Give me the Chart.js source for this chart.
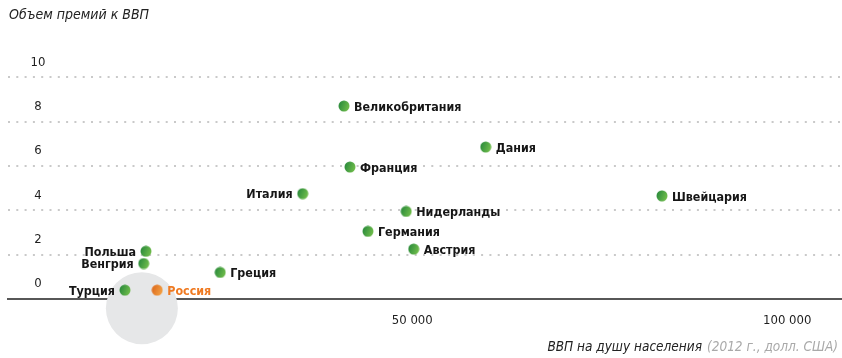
<!DOCTYPE html>
<html lang="ru">
<head>
<meta charset="utf-8">
<title>Объем премий к ВВП</title>
<script src="https://cdn.jsdelivr.net/npm/chart.js@4.4.1/dist/chart.umd.min.js"></script>
<style>
  html, body { margin: 0; padding: 0; background: #fff; }
  #wrap { position: relative; width: 842px; height: 358px; overflow: hidden; }
  #c { position: absolute; left: 0; top: 0; }
  .cap {
    position: absolute; white-space: nowrap; font-style: italic;
    font-family: 'Liberation Sans Narrow', 'DejaVu Sans Condensed', 'Roboto', sans-serif;
    color: #222; font-size: 14px;
  }
  #ytitle { left: 9px; top: 6px; }
  #xtitle { right: 4px; top: 338px; font-size: 13.5px; }
  #xtitle span { color: #a9a9a9; margin-left: 5px; }
</style>
</head>
<body>
<div id="wrap">
  <canvas id="c" width="842" height="358"></canvas>
  <div class="cap" id="ytitle">Объем премий к ВВП</div>
  <div class="cap" id="xtitle">ВВП на душу населения<span>(2012 г., долл. США)</span></div>
</div>
<script>
// Insurance premiums as % of GDP against GDP per capita (USD, 2012)
const countries = ['Великобритания', 'Дания', 'Франция', 'Италия', 'Нидерланды', 'Швейцария',
                   'Германия', 'Австрия', 'Польша', 'Венгрия', 'Греция', 'Турция', 'Россия'];
const gdpPerCapita = [40900, 59800, 41700, 35400, 49200, 83300,
                      44100, 50200, 14500, 14200, 24400, 11700, 16000];
const premiumsToGdp = [8.7, 6.85, 5.95, 4.75, 3.95, 4.65,
                       3.05, 2.25, 2.15, 1.6, 1.2, 0.4, 0.4];
const xTickValues = [50000, 100000];
const yTickValues = [0, 2, 4, 6, 8, 10];

const highlighted = 'Россия';
const labelsOnLeft = ['Италия', 'Польша', 'Венгрия', 'Турция'];

const FONT = "'Liberation Sans Narrow', 'DejaVu Sans Condensed', 'Roboto', sans-serif";
const DOT_R = 5.5;

const points = countries.map((name, i) => ({ x: gdpPerCapita[i], y: premiumsToGdp[i], name }));

// Small shaded disc used as the point glyph
function makeDot(dark, light) {
  const size = Math.ceil(DOT_R * 2) + 1;
  const cv = document.createElement('canvas');
  cv.width = size; cv.height = size;
  const g = cv.getContext('2d');
  const c = size / 2;
  const grad = g.createLinearGradient(c - DOT_R, c - DOT_R * 0.4, c + DOT_R, c + DOT_R * 0.4);
  grad.addColorStop(0, dark);
  grad.addColorStop(1, light);
  g.fillStyle = grad;
  g.beginPath();
  g.arc(c, c, DOT_R, 0, Math.PI * 2);
  g.fill();
  return cv;
}
const greenDot = makeDot('#2a8a3c', '#74c04c');
const orangeDot = makeDot('#dd6a1c', '#f4a447');

// Country names next to each dot, and the y tick values above their grid lines
const annotate = {
  id: 'annotate',
  afterDatasetsDraw(chart) {
    const { ctx } = chart;
    const meta = chart.getDatasetMeta(0);
    ctx.save();
    ctx.font = 'bold 12.4px ' + FONT;
    ctx.textBaseline = 'middle';
    meta.data.forEach((el, i) => {
      const name = countries[i];
      const left = labelsOnLeft.includes(name);
      ctx.fillStyle = name === highlighted ? '#ef7a22' : '#161616';
      ctx.textAlign = left ? 'right' : 'left';
      ctx.fillText(name, el.x + (left ? -10 : 10), el.y + 1.5);
    });
    ctx.restore();
  },
  afterDraw(chart) {
    const { ctx } = chart;
    const sy = chart.scales.y;
    ctx.save();
    ctx.font = '13px ' + FONT;
    ctx.fillStyle = '#1e1e1e';
    ctx.textAlign = 'center';
    ctx.textBaseline = 'middle';
    yTickValues.forEach(v => ctx.fillText(String(v), 38, sy.getPixelForValue(v) - 15));
    ctx.restore();
  }
};

new Chart(document.getElementById('c'), {
  type: 'scatter',
  data: {
    datasets: [
      {
        label: 'Страны',
        data: points,
        order: 1,
        pointRadius: DOT_R,
        pointHoverRadius: DOT_R,
        pointBorderWidth: 0,
        pointStyle: c => (c.raw && c.raw.name === highlighted) ? orangeDot : greenDot,
        backgroundColor: '#3f9e3a'
      },
      {
        type: 'bubble',
        label: 'Россия (фокус)',
        data: [{ x: 13950, y: -0.42, r: 36 }],
        order: 2,
        clip: false,
        backgroundColor: '#e6e7e8',
        borderWidth: 0
      }
    ]
  },
  options: {
    responsive: false,
    animation: false,
    events: [],
    layout: { autoPadding: false, padding: { top: 55, left: 0, right: 0, bottom: 0 } },
    plugins: { legend: { display: false }, tooltip: { enabled: false } },
    scales: {
      x: {
        type: 'linear',
        min: -3900,
        max: 107300,
        z: 1,
        afterBuildTicks: s => { s.ticks = xTickValues.map(v => ({ value: v })); },
        afterFit: s => {
          s.height = 59;
          s.paddingLeft = 0; s.paddingRight = 0;
          s.paddingTop = 0; s.paddingBottom = 0;
        },
        grid: { display: false, drawTicks: false },
        border: { display: true, color: '#575757', width: 2 },
        ticks: {
          padding: 14,
          color: '#1e1e1e',
          font: { family: FONT, size: 13 },
          callback: v => String(v).replace(/\B(?=(\d{3})+(?!\d))/g, ' ')
        }
      },
      y: {
        type: 'linear',
        min: 0,
        max: 11,
        afterBuildTicks: s => { s.ticks = yTickValues.map(v => ({ value: v })); },
        afterFit: s => {
          s.width = 8;
          s.paddingLeft = 0; s.paddingRight = 0;
          s.paddingTop = 0; s.paddingBottom = 0;
        },
        grid: {
          drawTicks: false,
          lineWidth: 2,
          color: c => (c.tick && c.tick.value === 0) ? 'rgba(0,0,0,0)' : '#c9c9c9'
        },
        border: { display: false, dash: [2, 6.3] },
        ticks: { display: false }
      }
    }
  },
  plugins: [annotate]
});
</script>
</body>
</html>
